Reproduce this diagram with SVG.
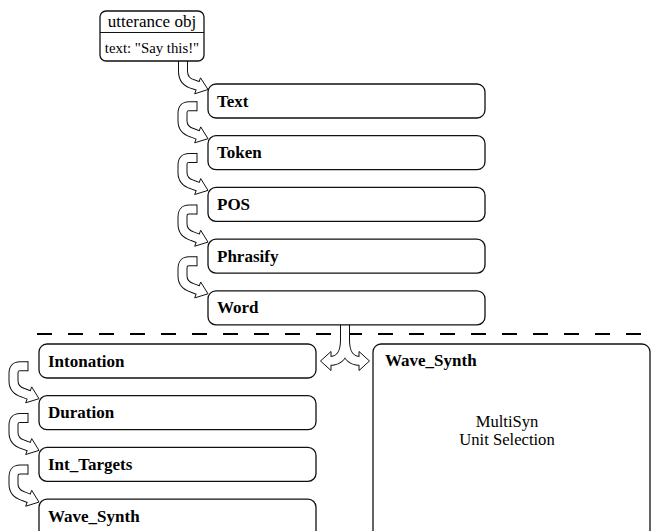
<svg xmlns="http://www.w3.org/2000/svg" xmlns:xlink="http://www.w3.org/1999/xlink" width="656" height="531" viewBox="0 0 656 531">
<style>
.box{fill:#fff;stroke:#111;stroke-width:1.3}
.lbl{font-family:"Liberation Serif","Times New Roman",serif;font-size:17px;font-weight:bold;fill:#000}
.txt{font-family:"Liberation Serif","Times New Roman",serif;fill:#000}
.ob{fill:none;stroke:#111;stroke-width:10;stroke-linejoin:round}
.ow{fill:none;stroke:#fff;stroke-width:8;stroke-linejoin:round}
.hd{fill:#fff;stroke:#111;stroke-width:1;stroke-linejoin:miter}
.tl{fill:none;stroke:#111;stroke-width:1}
.dash{stroke:#000;stroke-width:2.2;stroke-dasharray:15 16}
</style>
<defs>
<g id="carrow">
<path class="ob" d="M -11,-29.5 H -19 Q -25.5,-29.5 -25.5,-22 V -15 Q -25.5,-6 -16,-3 L -8.9,-0.3"/>
<polygon class="hd" points="0,3 -13.3,7.1 -7.3,-8.8"/>
<path class="ow" d="M -11,-29.5 H -19 Q -25.5,-29.5 -25.5,-22 V -15 Q -25.5,-6 -16,-3 L -8.9,-0.3"/>
<path class="tl" d="M -11,-34.5 V -24.5"/>
</g>
</defs>
<line class="dash" x1="37" y1="334" x2="652" y2="334"/>
<g id="connectors">
<g id="c-utt-text">
<path class="ob" d="M183,55 V71 Q183,82 194,84.5 L199,86.3"/>
<polygon class="hd" points="208,89.5 194.7,93.8 200.5,77.8"/>
<path class="ow" d="M183,55 V71 Q183,82 194,84.5 L199,86.3"/>
</g>
<use id="c-text-token" xlink:href="#carrow" href="#carrow" x="208" y="135.7"/>
<use id="c-token-pos" xlink:href="#carrow" href="#carrow" x="208" y="187.4"/>
<use id="c-pos-phrasify" xlink:href="#carrow" href="#carrow" x="208" y="239.1"/>
<use id="c-phrasify-word" xlink:href="#carrow" href="#carrow" x="208" y="290.8"/>
<g id="c-word-split">
<path class="ob" d="M345,318 V340 Q345,361 329.5,361"/>
<path class="ob" d="M345,340 Q345,361 360.5,361"/>
<polygon class="hd" points="320.5,361 331,351.5 331,370.5"/>
<polygon class="hd" points="369.5,361 359,351.5 359,370.5"/>
<path class="ow" d="M345,318 V340 Q345,361 329.5,361"/>
<path class="ow" d="M345,340 Q345,361 360.5,361"/>
</g>
<use id="c-inton-dur" xlink:href="#carrow" href="#carrow" x="39" y="395.7"/>
<use id="c-dur-int" xlink:href="#carrow" href="#carrow" x="39" y="447.4"/>
<use id="c-int-wave" xlink:href="#carrow" href="#carrow" x="39" y="499.1"/>
</g>
<g id="utterance">
<rect class="box" x="100" y="11" width="104" height="50" rx="6"/>
<line x1="100" y1="32.5" x2="204" y2="32.5" stroke="#111" stroke-width="1.2"/>
<text class="txt" x="152" y="27" font-size="17" text-anchor="middle">utterance obj</text>
<text class="txt" x="152" y="53" font-size="14.8" text-anchor="middle">text: "Say this!"</text>
</g>
<g id="n-text"><rect class="box" x="208" y="84" width="277" height="34" rx="8"/><text class="lbl" x="217" y="106.5">Text</text></g>
<g id="n-token"><rect class="box" x="208" y="135.7" width="277" height="34" rx="8"/><text class="lbl" x="217" y="158.2">Token</text></g>
<g id="n-pos"><rect class="box" x="208" y="187.4" width="277" height="34" rx="8"/><text class="lbl" x="217" y="209.9">POS</text></g>
<g id="n-phrasify"><rect class="box" x="208" y="239.1" width="277" height="34" rx="8"/><text class="lbl" x="217" y="261.6">Phrasify</text></g>
<g id="n-word"><rect class="box" x="208" y="290.8" width="277" height="34" rx="8"/><text class="lbl" x="217" y="313.3">Word</text></g>
<g id="n-intonation"><rect class="box" x="39" y="344" width="277" height="34" rx="8"/><text class="lbl" x="48" y="366.5">Intonation</text></g>
<g id="n-duration"><rect class="box" x="39" y="395.7" width="277" height="34" rx="8"/><text class="lbl" x="48" y="418.2">Duration</text></g>
<g id="n-inttargets"><rect class="box" x="39" y="447.4" width="277" height="34" rx="8"/><text class="lbl" x="48" y="469.9">Int_Targets</text></g>
<g id="n-wavesynth"><rect class="box" x="39" y="499.1" width="277" height="44" rx="8"/><text class="lbl" x="48" y="521.6">Wave_Synth</text></g>
<g id="n-multisyn">
<rect class="box" x="373" y="344" width="277" height="200" rx="8"/>
<text class="lbl" x="385" y="365.5">Wave_Synth</text>
<text class="txt" x="507" y="427" font-size="16.6" text-anchor="middle">MultiSyn</text>
<text class="txt" x="507" y="445" font-size="16.6" text-anchor="middle">Unit Selection</text>
</g>
</svg>
